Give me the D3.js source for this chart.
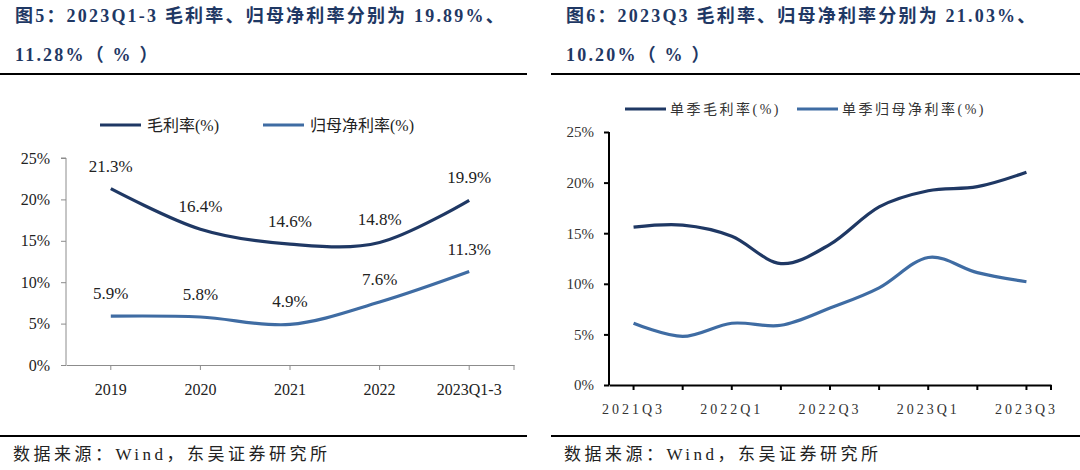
<!DOCTYPE html>
<html>
  <head>
    <meta charset="utf-8">
    <title>毛利率与归母净利率</title>
    <script src="https://d3js.org/d3.v7.min.js"></script>
    <style>
      body { margin: 0; background: #fff; }
      text { font-family: "Liberation Serif", "Noto Sans CJK SC", serif; }
    </style>
  </head>
  <body>
    <div id="chart"></div>
    <script>
// Fig 5 data (annual)
const yearCats = ["2019", "2020", "2021", "2022", "2023Q1-3"];
const yearGross = [21.3, 16.4, 14.6, 14.8, 19.89];
const yearNet = [5.9, 5.8, 4.9, 7.6, 11.28];
const yearLabelsGross = ["21.3%", "16.4%", "14.6%", "14.8%", "19.9%"];
const yearLabelsNet = ["5.9%", "5.8%", "4.9%", "7.6%", "11.3%"];

// Fig 6 data (single quarter)
const quarterCats = ["2021Q3", "2021Q4", "2022Q1", "2022Q2", "2022Q3", "2022Q4", "2023Q1", "2023Q2", "2023Q3"];
const quarterGross = [15.6, 15.8, 14.7, 12.0, 13.9, 17.6, 19.2, 19.6, 21.03];
const quarterNet = [6.1, 4.8, 6.1, 5.9, 7.6, 9.6, 12.6, 11.1, 10.2];
const quarterTickLabels = ["2021Q3", "2022Q1", "2022Q3", "2023Q1", "2023Q3"];

const yTicks = [0, 5, 10, 15, 20, 25];

const width = 1080;
const height = 470;
const navy = "#1f3864";
const blue = "#3f6ca3";

const svg = d3.select("#chart").append("svg")
  .attr("width", width)
  .attr("height", height)
  .attr("viewBox", [0, 0, width, height]);

// titles, rules and source lines
function frame(x0, x1, title1, title2, tx) {
  svg.append("text").attr("x", tx).attr("y", 22)
    .attr("fill", navy).style("font-size", "18px").style("font-weight", "bold")
    .style("letter-spacing", "2.2px")
    .text(title1);
  svg.append("text").attr("x", tx).attr("y", 61)
    .attr("fill", navy).style("font-size", "18px").style("font-weight", "bold")
    .style("letter-spacing", "2.2px")
    .text(title2);
  svg.append("line").attr("x1", x0).attr("x2", x1).attr("y1", 74).attr("y2", 74)
    .attr("stroke", "#000").attr("stroke-width", 2);
  svg.append("line").attr("x1", x0).attr("x2", x1).attr("y1", 436).attr("y2", 436)
    .attr("stroke", "#000").attr("stroke-width", 2);
  svg.append("text").attr("x", tx - 2).attr("y", 460)
    .attr("fill", "#222").style("font-size", "17px").style("letter-spacing", "3.5px")
    .text("数据来源：Wind，东吴证券研究所");
}

frame(0, 527, "图5：2023Q1-3 毛利率、归母净利率分别为 19.89%、", "11.28%（ % ）", 15);
frame(551, 1080, "图6：2023Q3 毛利率、归母净利率分别为 21.03%、", "10.20%（ % ）", 566);

// ---------- left chart ----------
{
  const x = d3.scaleBand().domain(yearCats).range([66, 514]);
  const y = d3.scaleLinear().domain([0, 25]).range([365, 158]);
  const cx = d => x(d) + x.bandwidth() / 2;
  const axisColor = "#8c8c8c";

  const yAxis = svg.append("g")
    .attr("transform", "translate(66,0)")
    .call(d3.axisLeft(y).tickValues(yTicks).tickSize(5).tickFormat(d => d + "%"));
  yAxis.selectAll("path,line").attr("stroke", axisColor);
  yAxis.select(".domain").attr("d", `M-5,${y(25)}H0V${y(0)}`);
  yAxis.selectAll("text").attr("x", -16).attr("fill", "#222")
    .style("font-size", "16px").style("font-family", "Liberation Serif");

  const xAxis = svg.append("g")
    .attr("transform", "translate(0,365)")
    .call(d3.axisBottom(x).tickSize(5).tickSizeOuter(0));
  xAxis.selectAll("path,line").attr("stroke", axisColor);
  xAxis.append("line").attr("x1", 514).attr("x2", 514).attr("y1", 0).attr("y2", 5)
    .attr("stroke", axisColor);
  xAxis.selectAll("text").attr("y", 19).attr("fill", "#222")
    .style("font-size", "16px").style("font-family", "Liberation Serif");

  const line = d3.line().curve(d3.curveCardinal.tension(0))
    .x((d, i) => cx(yearCats[i])).y(d => y(d));

  [[yearGross, navy, yearLabelsGross], [yearNet, blue, yearLabelsNet]].forEach(([vals, col, labs]) => {
    svg.append("path").datum(vals)
      .attr("fill", "none").attr("stroke", col).attr("stroke-width", 3.2)
      .attr("d", line);
    svg.selectAll(null).data(vals).join("text")
      .attr("x", (d, i) => cx(yearCats[i]))
      .attr("y", d => y(d) - 17)
      .attr("text-anchor", "middle")
      .attr("fill", "#222")
      .style("font-size", "17px")
      .text((d, i) => labs[i]);
  });

  // legend
  const leg = [["毛利率(%)", navy, 100], ["归母净利率(%)", blue, 263]];
  leg.forEach(([t, col, lx]) => {
    svg.append("line").attr("x1", lx).attr("x2", lx + 41).attr("y1", 125).attr("y2", 125)
      .attr("stroke", col).attr("stroke-width", 3.2);
    svg.append("text").attr("x", lx + 47).attr("y", 131)
      .attr("fill", "#222").style("font-size", "16px").text(t);
  });
}

// ---------- right chart ----------
{
  const x = d3.scaleBand().domain(quarterCats).range([609, 1051]);
  const y = d3.scaleLinear().domain([0, 25]).range([385, 132]);
  const cx = d => x(d) + x.bandwidth() / 2;

  const yAxis = svg.append("g")
    .attr("transform", "translate(609,0)")
    .call(d3.axisLeft(y).tickValues(yTicks).tickSize(5).tickFormat(d => d + "%"));
  yAxis.selectAll("path,line").attr("stroke", "#000").attr("stroke-width", 2);
  yAxis.select(".domain").attr("d", `M0,${y(25)}V${y(0)}`);
  yAxis.selectAll("text").attr("x", -15).attr("fill", "#333")
    .style("font-size", "15px").style("font-family", "Liberation Serif");

  const xAxis = svg.append("g")
    .attr("transform", "translate(0,385)")
    .call(d3.axisBottom(x).tickSize(5).tickSizeOuter(0)
      .tickFormat(d => quarterTickLabels.includes(d) ? d : ""));
  xAxis.selectAll("path,line").attr("stroke", "#000").attr("stroke-width", 2);
  xAxis.append("line").attr("x1", 1051).attr("x2", 1051).attr("y1", 0).attr("y2", 5)
    .attr("stroke", "#000").attr("stroke-width", 2);
  xAxis.selectAll("text").attr("y", 19).attr("fill", "#333")
    .style("font-size", "14px").style("letter-spacing", "3px")
    .style("font-family", "Liberation Serif");

  const line = d3.line().curve(d3.curveCardinal.tension(0))
    .x((d, i) => cx(quarterCats[i])).y(d => y(d));

  [[quarterGross, navy], [quarterNet, blue]].forEach(([vals, col]) => {
    svg.append("path").datum(vals)
      .attr("fill", "none").attr("stroke", col).attr("stroke-width", 3.2)
      .attr("d", line);
  });

  const leg = [["单季毛利率(%)", navy, 625], ["单季归母净利率(%)", blue, 797]];
  leg.forEach(([t, col, lx]) => {
    svg.append("line").attr("x1", lx).attr("x2", lx + 41).attr("y1", 109).attr("y2", 109)
      .attr("stroke", col).attr("stroke-width", 3.2);
    svg.append("text").attr("x", lx + 45).attr("y", 114)
      .attr("fill", "#333").style("font-size", "14px").style("letter-spacing", "2.5px").text(t);
  });
}
    </script>
  </body>
</html>
